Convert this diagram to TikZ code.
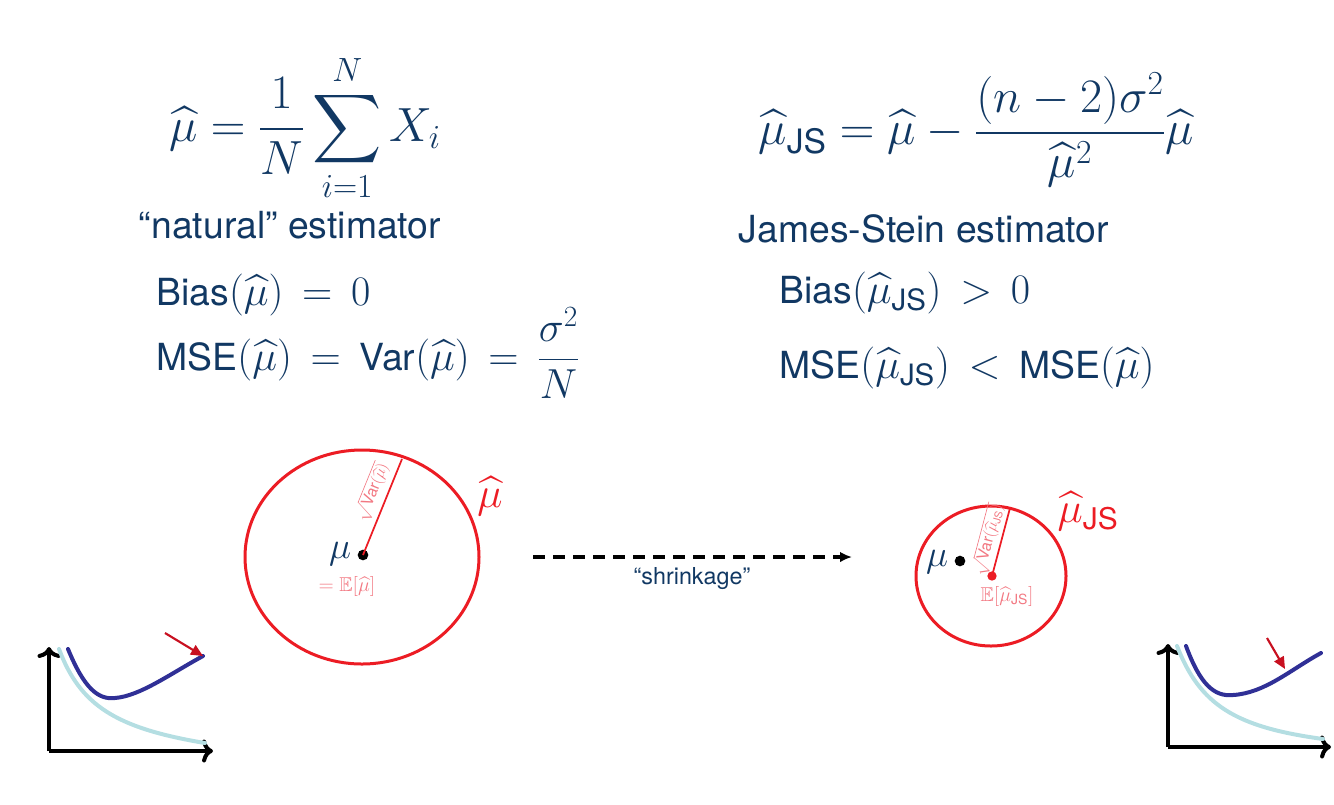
\RequirePackage{fix-cm}
\documentclass[tikz,border=0pt]{standalone}
\usepackage{amsmath,amssymb}
\usepackage{fontspec}
\setmainfont{TeX Gyre Heros}
\usetikzlibrary{arrows.meta}

\definecolor{navy}{RGB}{17,56,99}
\definecolor{jsred}{RGB}{236,28,36}
\definecolor{pinkred}{RGB}{242,120,130}
\definecolor{curveblue}{RGB}{48,48,150}
\definecolor{paleblue}{RGB}{180,222,226}
\definecolor{arrowred}{RGB}{200,16,32}

\newcommand{\JS}{\text{JS}}
\newcommand{\muhat}{\widehat{\mu}}
\newcommand{\tx}[1]{\text{\fontsize{28}{34}\selectfont #1}}
\newcommand{\widerel}{\thickmuskip=8mu plus 4mu\relax}

\tikzset{every picture/.style={line width=0.75pt},
  bigtext/.style={text=navy, inner sep=0.75pt, font=\fontsize{28}{34}\selectfont},
  mathline/.style={text=navy, inner sep=0.75pt, font=\fontsize{31.5}{38}\selectfont\widerel},
  bigmath/.style={text=navy, inner sep=0.75pt, font=\fontsize{36}{42}\selectfont},
  smalltext/.style={text=navy, inner sep=0.75pt, font=\fontsize{17.5}{21}\selectfont},
  redlabel/.style={text=jsred, inner sep=0.75pt, font=\fontsize{32}{38}\selectfont},
  pinklabel/.style={text=pinkred, inner sep=0.75pt, font=\fontsize{15}{18}\selectfont},
  rootlabel/.style={text=pinkred, inner sep=0.75pt, font=\fontsize{12}{14}\selectfont},
  spread/.style={draw=jsred, line width=2.25pt},
  radius line/.style={draw=jsred, line width=1.3pt},
  axis/.style={line width=3pt, ->},
  errcurve/.style={line width=3pt, line cap=round},
  hint/.style={arrowred, line width=1.6pt, -{Triangle[length=9pt,width=8pt]}}}

\begin{document}
\begin{tikzpicture}[x=0.75pt,y=0.75pt,yscale=-1,xscale=1]
\useasboundingbox (0,0) rectangle (1334,804);

% Text Node
\node [bigmath] (natmean) at (305,128) {$\displaystyle \muhat = \frac{1}{N}\sum_{i=1}^{N} X_i$};
% Text Node
\node [bigtext] (natname) at (290,225) {“natural” estimator};
% Text Node
\node [bigmath] (jsmean) at (976,130) {$\displaystyle \muhat_{\JS} = \muhat - \frac{(n-2)\sigma^2}{\muhat^2}\muhat$};
% Text Node
\node [bigtext] (jsname) at (924,229) {James-Stein estimator};
% Text Node
\node [mathline, anchor=base west] (natbias) at (155,305) {$\tx{Bias}(\muhat) = 0$};
% Text Node
\node [mathline, anchor=base west] (natmse) at (155,370) {$\tx{MSE}(\muhat) = \tx{Var}(\muhat) = \dfrac{\sigma^2}{N}$};
% Text Node
\node [mathline, anchor=base west] (jsbias) at (778,303) {$\tx{Bias}(\muhat_{\JS}) > 0$};
% Text Node
\node [mathline, anchor=base west] (jsmse) at (778,378) {$\tx{MSE}(\muhat_{\JS}) < \tx{MSE}(\muhat)$};

%Shape: Ellipse [id:natcloud]
\draw [spread] (362,557) ellipse [x radius=117, y radius=107];
\node [circle, fill=black, inner sep=0pt, minimum size=8pt] (mu1) at (363,555) {};
\coordinate (rim1) at (402,459);
\draw [radius line] (mu1.center) -- (rim1);
\node [rootlabel, rotate=67.9] (root1) at (372,492) {$\sqrt{\text{Var}(\muhat)}$};
\node [bigtext] (mulab1) at (340,554) {$\mu$};
\node [pinklabel] (exp1) at (347,586) {$= \mathbb{E}[\muhat]$};
\node [redlabel] (hat1) at (490,496) {$\muhat$};

%Straight Lines [id:shrink]
\coordinate (shrinkA) at (533,557);
\coordinate (shrinkB) at (852,557);
\draw [line width=2.3pt, dash pattern=on 9pt off 6pt, -{Latex[length=9pt,width=8pt]}] (shrinkA) -- (shrinkB);
\node [smalltext] (shrinklab) at (692,579) {“shrinkage”};

%Shape: Ellipse [id:jscloud]
\draw [spread] (991,576) ellipse [x radius=75, y radius=70];
\node [circle, fill=black, inner sep=0pt, minimum size=8pt] (mu2) at (960,561) {};
\node [circle, fill=jsred, inner sep=0pt, minimum size=7pt] (ejs) at (992,576) {};
\coordinate (rim2) at (1010,508);
\draw [radius line] (ejs.center) -- (rim2);
\node [rootlabel, rotate=75.2] (root2) at (988,540) {$\sqrt{\text{Var}(\muhat_{\JS})}$};
\node [bigtext] (mulab2) at (937,562) {$\mu$};
\node [pinklabel] (exp2) at (1007,596) {$\mathbb{E}[\muhat_{\JS}]$};
\node [redlabel] (hat2) at (1088,511) {$\muhat_{\JS}$};

%Curve Lines [id:natplot]
\coordinate (o1) at (49,751);
\coordinate (ytop1) at (49,647);
\coordinate (xend1) at (213,751);
\draw [axis] (o1) -- (ytop1);
\draw [axis] (o1) -- (xend1);
\draw [errcurve, paleblue] (59,649) .. controls (80,705) and (115,728) .. (205,743);
\coordinate (tip1) at (203,656);
\draw [errcurve, curveblue] (68,649) .. controls (84,688) and (98,700) .. (115,698) .. controls (140,696) and (170,674) .. (tip1);
\coordinate (tail1) at (165,633);
\draw [hint] (tail1) -- (tip1);

%Curve Lines [id:jsplot]
\coordinate (o2) at (1168,747);
\coordinate (ytop2) at (1168,644);
\coordinate (xend2) at (1331,747);
\draw [axis] (o2) -- (ytop2);
\draw [axis] (o2) -- (xend2);
\draw [errcurve, paleblue] (1177,646) .. controls (1200,705) and (1235,727) .. (1323,739);
\draw [errcurve, curveblue] (1186,646) .. controls (1200,684) and (1214,697) .. (1233,695) .. controls (1265,693) and (1290,670) .. (1321,653);
\coordinate (tail2) at (1267,638);
\coordinate (tip2) at (1285,669);
\draw [hint] (tail2) -- (tip2);

\end{tikzpicture}
\end{document}
